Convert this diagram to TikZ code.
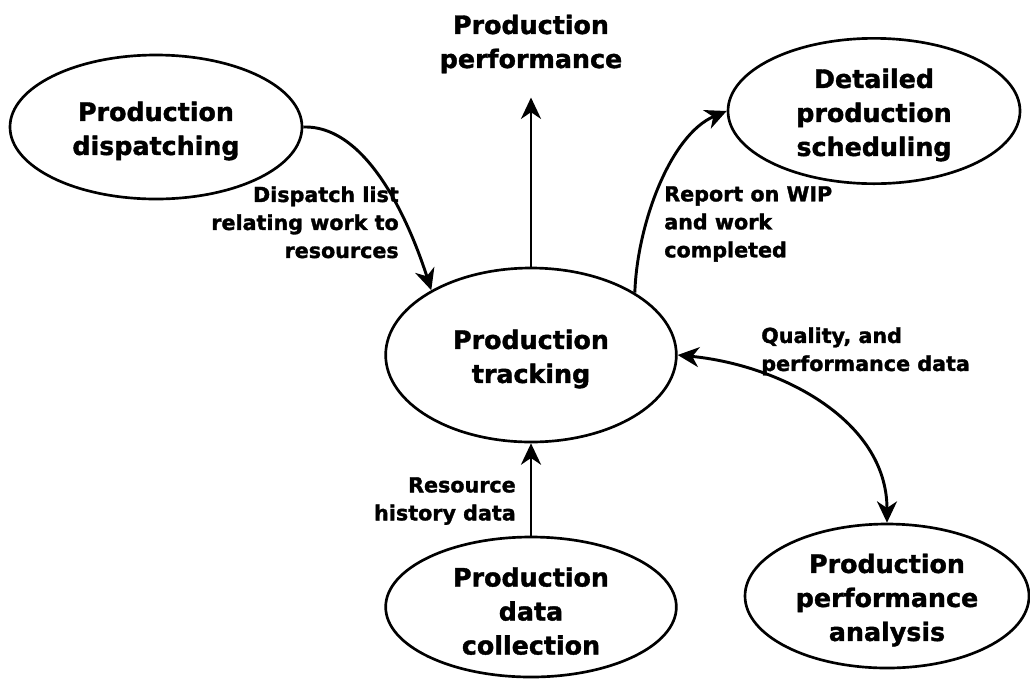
\documentclass[tikz,border=0pt]{standalone}
\usepackage{fontspec}
\setmainfont{DejaVu Sans}[BoldFeatures={FakeBold=1.5}]
\usetikzlibrary{shapes.geometric,arrows.meta}
\newcommand\tupstrut{\rule{0pt}{20.5pt}}
\begin{document}
\begin{tikzpicture}[x=0.75pt,y=-0.75pt,
  proc/.style={ellipse,draw,line width=2pt,inner sep=0pt,align=center,
    font=\fontsize{19}{25.5}\selectfont\bfseries},
  title/.style={inner sep=0pt,align=center,font=\fontsize{19}{25.5}\selectfont\bfseries},
  lbl/.style={inner sep=0pt,font=\fontsize{15.5}{21}\selectfont\bfseries},
  arr/.style={line width=2.2pt,-{Stealth[length=16pt,width=15pt,inset=5pt]}},
  darr/.style={line width=2.2pt,{Stealth[length=16pt,width=15pt,inset=5pt]}-{Stealth[length=16pt,width=15pt,inset=5pt]}}]
\fill[white] (0,0) rectangle (1030,679);
\useasboundingbox (0,0) rectangle (1030,679);
% nodes
\node[proc,minimum width=219pt,minimum height=108pt] (disp) at (156,127) {\tupstrut Production\\dispatching};
\node[proc,minimum width=219pt,minimum height=109pt] (det) at (874,111) {\tupstrut Detailed\\production\\scheduling};
\node[proc,minimum width=218pt,minimum height=130.5pt] (track) at (531,355) {\tupstrut Production\\tracking};
\node[proc,minimum width=218pt,minimum height=105pt] (coll) at (531,607) {\tupstrut Production\\data\\collection};
\node[proc,minimum width=213pt,minimum height=108pt] (anal) at (887,596) {\tupstrut Production\\performance\\analysis};
\node[title] (perf) at (531,44) {Production\\performance};
% labels
\node[lbl,align=right,anchor=north east] (ldisp) at (399,186) {Dispatch list\\relating work to\\resources};
\node[lbl,align=left,anchor=north west] (lrep) at (664,186) {Report on WIP\\and work\\completed};
\node[lbl,align=left,anchor=north west] (lqual) at (761,327) {Quality, and\\performance data};
\node[lbl,align=right,anchor=north east] (lres) at (516,477) {Resource\\history data};
% connectors
\draw[arr] (disp.east) .. controls (370,125) and (412,230) .. (track.147);
\draw[arr] (track.31) .. controls (637,225) and (670,135) .. (det.west);
\draw[darr] (track.east) .. controls (780,365) and (887,420) .. (anal.north);
\draw[arr,shorten >=18pt] (track.north) -- (perf.south);
\draw[arr] (coll.north) -- (track.south);
\end{tikzpicture}
\end{document}
